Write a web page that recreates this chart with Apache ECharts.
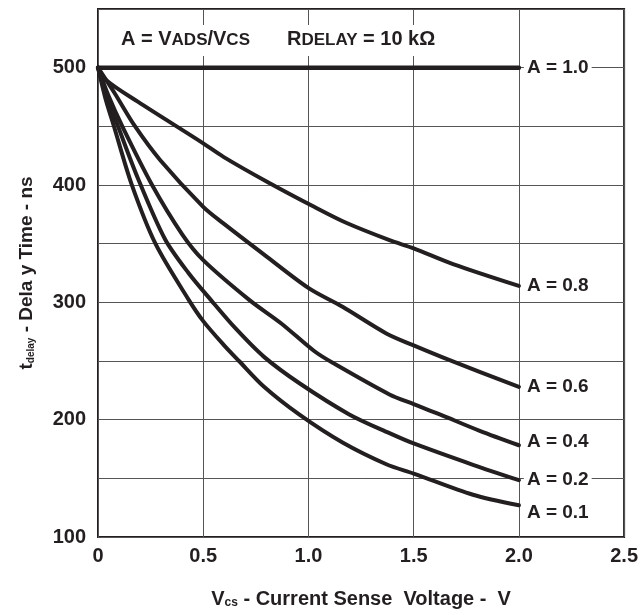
<!DOCTYPE html>
<html>
<head>
<meta charset="utf-8">
<script src="https://cdn.jsdelivr.net/npm/echarts@6/dist/echarts.min.js"></script>
<style>html,body{margin:0;padding:0;background:#fff;}#c{width:641px;height:615px;}</style>
</head>
<body>
<div id="c"></div>
<script>
// ---- data ----
const seriesNames = ['A = 1.0', 'A = 0.8', 'A = 0.6', 'A = 0.4', 'A = 0.2', 'A = 0.1'];
const vcs10 = [0, 2.0];
const td10 = [500, 500];
const vcs08 = [0, 0.038, 0.189, 0.5, 0.596, 0.803, 1.027, 1.179, 1.385, 1.5, 1.687, 2.0];
const td08 = [500, 489.5, 471, 435.5, 424, 402.8, 381.4, 367.8, 353, 346, 332.6, 314];
const vcs06 = [0, 0.08, 0.174, 0.295, 0.5, 0.596, 0.803, 1.003, 1.162, 1.37, 1.497, 1.671, 2.0];
const td06 = [500, 478, 450.5, 421.3, 381.4, 367.3, 338.8, 311.9, 296.2, 273.5, 263.5, 250.7, 228];
const vcs04 = [0, 0.05, 0.114, 0.257, 0.4, 0.5, 0.72, 0.871, 1.027, 1.115, 1.385, 1.5, 1.624, 1.814, 2.0];
const td04 = [500, 476, 450.5, 400, 358, 336, 301.9, 282, 258.5, 248.5, 221.5, 213.2, 204.5, 190.5, 178.2];
const vcs02 = [0, 0.04, 0.095, 0.189, 0.318, 0.43, 0.537, 0.655, 0.789, 0.959, 1.194, 1.385, 1.5, 1.782, 2.0];
const td02 = [500, 476, 450, 406, 354, 325, 301.9, 277.5, 253.5, 230.8, 204.5, 188.5, 179.7, 161.5, 148.4];
const vcs01 = [0, 0.035, 0.075, 0.159, 0.273, 0.432, 0.5, 0.596, 0.67, 0.789, 0.959, 1.162, 1.37, 1.5, 1.782, 2.0];
const td01 = [500, 474, 450.5, 401, 350, 301.9, 284, 264, 250, 228, 204, 180.5, 162, 154.1, 136, 127];
const xTickLabels = ['0', '0.5', '1.0', '1.5', '2.0', '2.5'];
const yTickLabels = ['100', '200', '300', '400', '500'];

const xs = [vcs10, vcs08, vcs06, vcs04, vcs02, vcs01];
const ys = [td10, td08, td06, td04, td02, td01];

const INK = '#231f20';
const FONT = '"Liberation Sans", Arial, Helvetica, sans-serif';
const labelOffsets = [[0, 0], [0, 0], [0, 0], [0, -3], [0, 0], [0, 7]];

const chart = echarts.init(document.getElementById('c'), null, {renderer: 'canvas'});

const series = seriesNames.map((name, i) => ({
  name: name,
  type: 'line',
  data: xs[i].map((x, k) => [x, ys[i][k]]),
  showSymbol: false,
  smooth: 0.3,
  lineStyle: {color: INK, width: i === 0 ? 4.5 : 4, cap: 'round', join: 'round'},
  itemStyle: {color: INK},
  z: 5,
  endLabel: {
    show: true,
    formatter: name,
    color: INK,
    fontFamily: FONT,
    fontWeight: 'bold',
    fontSize: 19,
    backgroundColor: '#fff',
    padding: [2, 3, 2, 3],
    distance: 5,
    offset: labelOffsets[i]
  }
}));

const option = {
  animation: false,
  backgroundColor: '#fff',
  grid: {left: 98, right: 13, top: 9, bottom: 78, show: true, borderColor: INK, borderWidth: 2, backgroundColor: 'transparent'},
  xAxis: {
    type: 'value', min: 0, max: 2.5, interval: 0.5,
    axisLine: {show: false},
    axisTick: {show: false},
    splitLine: {show: true, lineStyle: {color: '#555', width: 1}},
    axisLabel: {
      color: INK, fontFamily: FONT, fontWeight: 'bold', fontSize: 20, margin: 9,
      formatter: v => xTickLabels[Math.round(v / 0.5)] || ''
    },
    name: '{b|V}{s|cs}{b| - Current Sense  Voltage -  V}',
    nameLocation: 'middle',
    nameGap: 48,
    nameTextStyle: {
      color: INK, fontFamily: FONT, fontWeight: 'bold',
      rich: {
        b: {fontSize: 20, fontWeight: 'bold', fontFamily: FONT, color: INK, lineHeight: 24, verticalAlign: 'bottom'},
        s: {fontSize: 12, fontWeight: 'bold', fontFamily: FONT, color: INK, lineHeight: 14, verticalAlign: 'bottom'}
      }
    }
  },
  yAxis: {
    type: 'value', min: 100, max: 550, interval: 50,
    axisLine: {show: false},
    axisTick: {show: false},
    splitLine: {show: true, lineStyle: {color: '#555', width: 1}},
    axisLabel: {
      color: INK, fontFamily: FONT, fontWeight: 'bold', fontSize: 20, margin: 12,
      formatter: v => yTickLabels.indexOf(String(v)) >= 0 ? String(v) : ''
    },
    name: '{b|t}{s|delay}{b| - Dela y Time - ns}',
    nameLocation: 'middle',
    nameGap: 62,
    nameTextStyle: {
      color: INK, fontFamily: FONT, fontWeight: 'bold',
      rich: {
        b: {fontSize: 19, fontWeight: 'bold', fontFamily: FONT, color: INK, lineHeight: 24, verticalAlign: 'bottom'},
        s: {fontSize: 10, fontWeight: 'bold', fontFamily: FONT, color: INK, lineHeight: 12, verticalAlign: 'bottom'}
      }
    }
  },
  graphic: [
    {type: 'rect', left: 100, top: 25, shape: {width: 350, height: 31}, style: {fill: '#fff'}, z: 1, silent: true},
    {
      type: 'text', left: 121, top: 27, z: 10, silent: true,
      style: {
        text: '{n|A = V}{s|ADS}{n|/V}{s|CS}{g| }{n|R}{s|DELAY}{n| = 10 kΩ}',
        rich: {
          n: {fontSize: 20, fontWeight: 'bold', fontFamily: FONT, fill: INK, lineHeight: 24, verticalAlign: 'bottom'},
          s: {fontSize: 17, fontWeight: 'bold', fontFamily: FONT, fill: INK, lineHeight: 16, verticalAlign: 'bottom'}
          ,
          g: {fontSize: 20, width: 37}
        }
      }
    }
  ],
  series: series
};
chart.setOption(option);
</script>
</body>
</html>
